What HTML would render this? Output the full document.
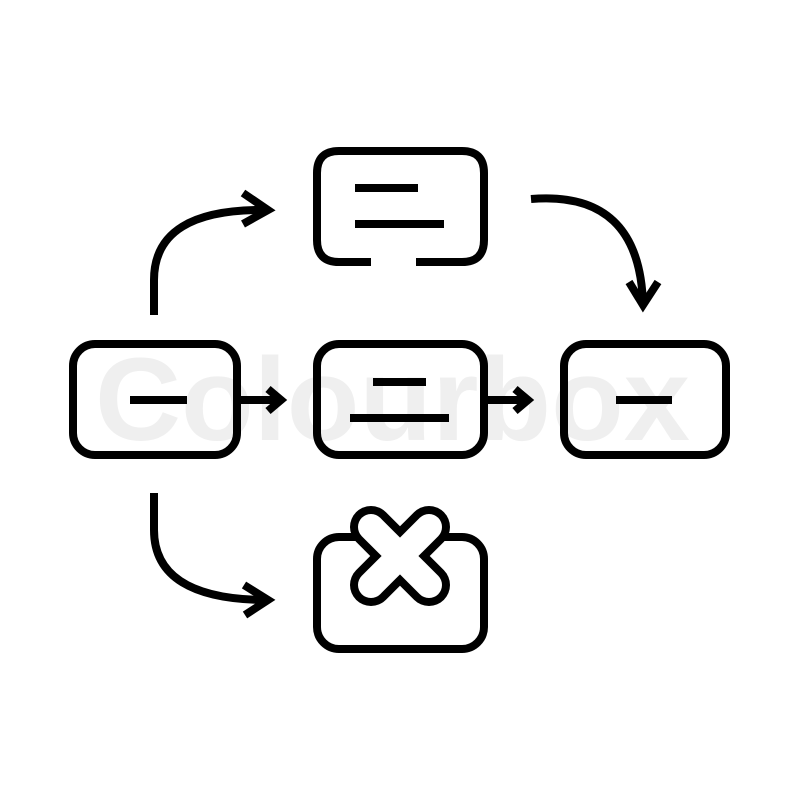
<!DOCTYPE html>
<html><head><meta charset="utf-8"><style>
html,body{margin:0;padding:0;background:#fff;}
svg{display:block;}
</style></head><body>
<svg width="800" height="800" viewBox="0 0 800 800" xmlns="http://www.w3.org/2000/svg">
<rect width="800" height="800" fill="#fff"/>
<text x="95" y="440" textLength="595" lengthAdjust="spacingAndGlyphs" font-family="Liberation Sans, sans-serif" font-weight="bold" font-size="118" fill="#efefef">Colourbox</text>
<g fill="none" stroke="#000" stroke-width="8">
  <path d="M371 262 H339 Q317 262 317 240 V173 Q317 151 339 151 H462 Q484 151 484 173 V240 Q484 262 462 262 H416"/>
  <line x1="355" y1="188" x2="418" y2="188"/>
  <line x1="355" y1="224" x2="444" y2="224"/>
  <rect x="73" y="344" width="164" height="111" rx="22"/>
  <line x1="130" y1="400" x2="187" y2="400"/>
  <rect x="317" y="344" width="167" height="111" rx="22"/>
  <line x1="373" y1="382" x2="426" y2="382"/>
  <line x1="350" y1="418" x2="449" y2="418"/>
  <rect x="564" y="344" width="162" height="111" rx="22"/>
  <line x1="616" y1="400" x2="672" y2="400"/>
  <rect x="317" y="537" width="167" height="112" rx="22"/>
  <line x1="241" y1="400" x2="280" y2="400"/>
  <polyline points="268,389 281,400 268,411"/>
  <line x1="488" y1="400" x2="527" y2="400"/>
  <polyline points="515,389 528,400 515,411"/>
  <path d="M154 315 V280 Q154 208 268 210"/>
  <polyline points="243,193 268,210 243,224"/>
  <path d="M531 199 Q640 190 643 305"/>
  <polyline points="629,282 643,305 658,282"/>
  <path d="M154 493 V530 Q154 600 268 600"/>
  <polyline points="244,585 268,600 245,615"/>
</g>
<g stroke-linecap="round" fill="none">
  <line x1="371" y1="527" x2="429" y2="585" stroke="#000" stroke-width="42"/>
  <line x1="429" y1="527" x2="371" y2="585" stroke="#000" stroke-width="42"/>
  <line x1="371" y1="527" x2="429" y2="585" stroke="#fff" stroke-width="26"/>
  <line x1="429" y1="527" x2="371" y2="585" stroke="#fff" stroke-width="26"/>
</g>
</svg>
</body></html>
